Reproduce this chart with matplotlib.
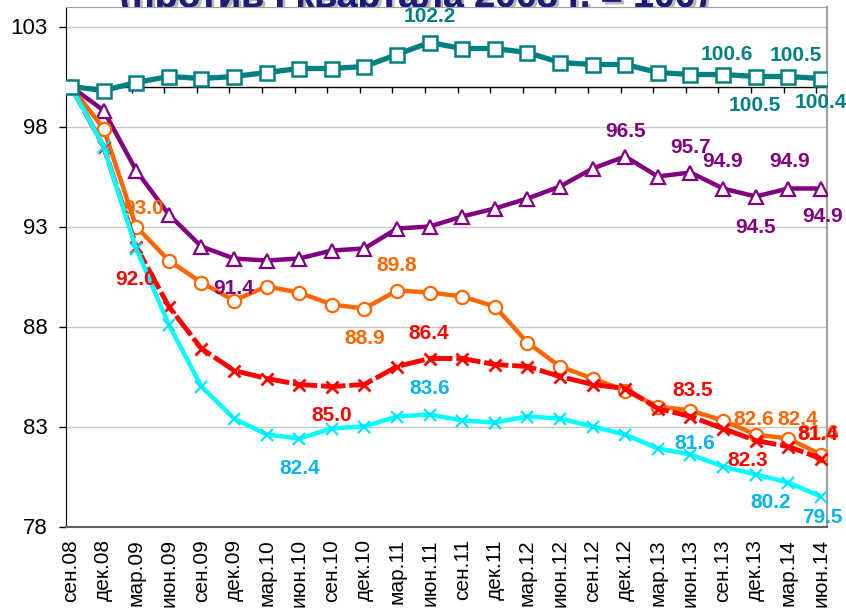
import matplotlib
matplotlib.use("Agg")
import matplotlib.pyplot as plt
import matplotlib.patheffects as pe
from matplotlib import font_manager

quarters = ['сен.08', 'дек.08', 'мар.09', 'июн.09', 'сен.09', 'дек.09',
            'мар.10', 'июн.10', 'сен.10', 'дек.10', 'мар.11', 'июн.11',
            'сен.11', 'дек.11', 'мар.12', 'июн.12', 'сен.12', 'дек.12',
            'мар.13', 'июн.13', 'сен.13', 'дек.13', 'мар.14', 'июн.14']

teal = [100.0, 99.8, 100.2, 100.5, 100.4, 100.5, 100.7, 100.9, 100.9, 101.0, 101.6, 102.2,
        101.9, 101.9, 101.7, 101.2, 101.1, 101.1, 100.7, 100.6, 100.6, 100.5, 100.5, 100.4]
purple = [100.0, 98.8, 95.8, 93.6, 92.0, 91.4, 91.3, 91.4, 91.8, 91.9, 92.9, 93.0,
          93.5, 93.9, 94.4, 95.0, 95.9, 96.5, 95.5, 95.7, 94.9, 94.5, 94.9, 94.9]
orange = [100.0, 97.9, 93.0, 91.3, 90.2, 89.3, 90.0, 89.7, 89.1, 88.9, 89.8, 89.7,
          89.5, 89.0, 87.2, 86.0, 85.4, 84.8, 84.0, 83.8, 83.3, 82.6, 82.4, 81.6]
red = [100.0, 97.0, 92.0, 89.0, 86.9, 85.8, 85.4, 85.1, 85.0, 85.1, 86.0, 86.4,
       86.4, 86.1, 86.0, 85.5, 85.1, 84.9, 83.9, 83.5, 82.9, 82.3, 82.0, 81.4]
cyan = [100.0, 97.0, 91.9, 88.1, 85.0, 83.4, 82.6, 82.4, 82.9, 83.0, 83.5, 83.6,
        83.3, 83.2, 83.5, 83.4, 83.0, 82.6, 81.9, 81.6, 81.0, 80.6, 80.2, 79.5]

# which points get a value label: index -> (dx, dy) offset in pixels
teal_labels = {11: (0, 26), 20: (4, 20), 22: (8, 21), 21: (-1, -29), 23: (0, -24)}
purple_labels = {5: (0, -30), 17: (0, 25), 19: (0, 25), 20: (0, 27), 21: (0, -31),
                 22: (1, 27), 23: (2, -28)}
orange_labels = {2: (7, 18), 9: (0, -30), 10: (0, 25), 21: (-2, 15), 22: (9, 19), 23: (-2, 21)}
red_labels = {2: (-1, -33), 8: (0, -29), 11: (-1, 25), 19: (2, 26), 21: (-8, -20), 23: (-3, 24)}
cyan_labels = {7: (0, -30), 11: (0, 26), 19: (4, 11), 22: (-18, -20), 23: (2, -21)}

installed = {f.name for f in font_manager.fontManager.ttflist}
base_font = 'Liberation Sans' if 'Liberation Sans' in installed else 'DejaVu Sans'
narrow_font = 'Liberation Sans Narrow' if 'Liberation Sans Narrow' in installed else base_font
plt.rcParams['font.family'] = [base_font, 'DejaVu Sans']

x = list(range(len(quarters)))

fig = plt.figure(figsize=(8.46, 6.12), dpi=100)
ax = fig.add_axes([66 / 846, 1 - 526.5 / 612, (827 - 66) / 846, (526.5 - 6.5) / 612])

# title sits behind the plot area, only its bottom edge shows
fig.text(0.489, 1 - 7 / 612, '(против I квартала 2008 г. = 100)', ha='center', va='baseline',
         fontsize=27, fontweight='bold', color='#1c1c78', zorder=-1,
         path_effects=[pe.withSimplePatchShadow(offset=(2, -2), shadow_rgbFace='#888888', alpha=0.6),
                       pe.Normal()])

ax.set_facecolor('white')
ax.set_xlim(-0.153, 23.19)
ax.set_ylim(78, 104)
ax.set_yticks([78, 83, 88, 93, 98, 103])
ax.yaxis.grid(True, color='#c8c8c8', lw=1)
ax.set_axisbelow(True)

ax.set_xticks(x)
ax.set_xticklabels(quarters, rotation=90, fontsize=15)
ax.tick_params(axis='x', length=0, pad=9)
ax.tick_params(axis='y', labelsize=16, length=5, width=1, direction='out', pad=8)
for lbl in ax.get_xticklabels():
    lbl.set_va('top')

ax.spines['left'].set_color('black')
ax.spines['bottom'].set_color('#606060')
ax.spines['bottom'].set_linewidth(1.5)
ax.spines['top'].set_color('#a0a0a0')
ax.spines['right'].set_color('#a0a0a0')
ax.spines['right'].set_linewidth(1.5)

# category axis crossing at 100 with small ticks hanging down
ax.axhline(100, color='black', lw=1, zorder=1)
ax.vlines([i - 0.14 for i in x[1:]], 99.7, 100, color='black', lw=1, zorder=1)

ax.plot(x, purple, color='#800080', lw=3.2, marker='^', ms=10, mfc='white', mec='#800080',
        mew=1.6, zorder=3)
ax.plot(x, orange, color='#FF6600', lw=3.2, marker='o', ms=9.5, mfc='white', mec='#FF6600',
        mew=1.6, zorder=4)
ax.plot(x, red, color='#FF0000', lw=3.5, dashes=(5, 0.8), marker='x', ms=9, mec='#FF0000',
        mew=2, zorder=5)
ax.plot(x, cyan, color='#00FFFF', lw=3.2, marker='x', ms=8, mec='#00E5FF', mew=1.6, zorder=6)
ax.plot(x, teal, color='#008080', lw=3.8, marker='s', ms=10, mfc='white', mec='#008080',
        mew=1.8, zorder=7)


def put_labels(values, spec, color):
    for i, (dx, dy) in spec.items():
        ax.annotate(f'{values[i]:.1f}', (x[i], values[i]), xytext=(dx, dy),
                    textcoords='offset pixels', ha='center', va='center', fontsize=15,
                    fontweight='bold', color=color, family=[narrow_font, 'DejaVu Sans'],
                    zorder=10, annotation_clip=False)


put_labels(teal, teal_labels, '#008080')
put_labels(purple, purple_labels, '#800080')
put_labels(orange, orange_labels, '#FF6600')
put_labels(red, red_labels, '#FF0000')
put_labels(cyan, cyan_labels, '#00B4F0')

fig.savefig('out.png', dpi=100)
